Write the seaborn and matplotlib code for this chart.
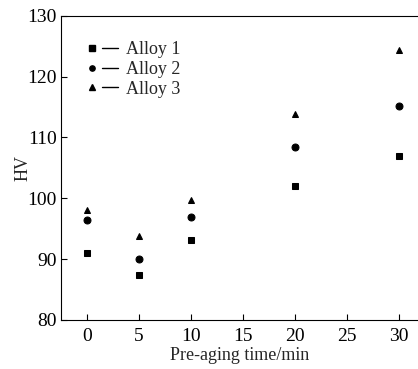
import matplotlib
matplotlib.use("Agg")
import matplotlib.pyplot as plt
import seaborn as sns
import pandas as pd
from matplotlib.lines import Line2D
from matplotlib.legend_handler import HandlerTuple

time_min = [0, 5, 10, 20, 30]
alloy1 = [91.0, 87.4, 93.2, 102.0, 107.0]
alloy2 = [96.4, 90.1, 97.0, 108.5, 115.1]
alloy3 = [98.0, 93.8, 99.7, 113.9, 124.4]
series_names = ["Alloy 1", "Alloy 2", "Alloy 3"]
x_ticks = [0, 5, 10, 15, 20, 25, 30]
y_ticks = [80, 90, 100, 110, 120, 130]

df = pd.DataFrame({
    "time": time_min * 3,
    "HV": alloy1 + alloy2 + alloy3,
    "alloy": [n for n in series_names for _ in time_min],
})

sns.set_style("ticks")
plt.rcParams["font.family"] = ["Liberation Serif", "DejaVu Serif"]

fig = plt.figure(figsize=(4.18, 3.69), dpi=100)
ax = fig.add_axes([0.146, 0.133, 0.854, 0.824])

markers = {"Alloy 1": "s", "Alloy 2": "o", "Alloy 3": "^"}
sizes = {"Alloy 1": 4.6, "Alloy 2": 5.0, "Alloy 3": 4.4}
for name in series_names:
    sub = df[df["alloy"] == name]
    sns.lineplot(data=sub, x="time", y="HV", ax=ax, marker=markers[name],
                 markersize=sizes[name], color="black", linestyle="none",
                 markeredgecolor="black", legend=False)

handles = []
for n in series_names:
    mk = Line2D([0], [0], color="black", marker=markers[n], markersize=3.8, linestyle="none")
    ln = Line2D([0], [0], color="black", lw=1.0, linestyle="-")
    handles.append((mk, ln))
leg = ax.legend(handles, series_names, loc="upper left", bbox_to_anchor=(0.044, 0.941),
                frameon=False, fontsize=13, handlelength=1.9, handletextpad=0.45,
                labelspacing=0.16, borderaxespad=0,
                handler_map={tuple: HandlerTuple(ndivide=None, pad=0.1)})

ax.set_xlim(-2.5, 31.8)
ax.set_ylim(80, 130)
ax.set_xticks(x_ticks)
ax.set_yticks(y_ticks)
ax.tick_params(direction="in", length=4, width=0.8, labelsize=14, colors="black", pad=3)
ax.tick_params(axis="x", pad=6)
ax.set_xlabel("Pre-aging time/min", fontsize=13, labelpad=1)
ax.set_ylabel("HV", fontsize=13, labelpad=-3)
for s in ["top", "right", "left", "bottom"]:
    ax.spines[s].set_color("black")
    ax.spines[s].set_linewidth(0.8)
ax.spines["right"].set_visible(False)

fig.savefig("out.png", dpi=100)
